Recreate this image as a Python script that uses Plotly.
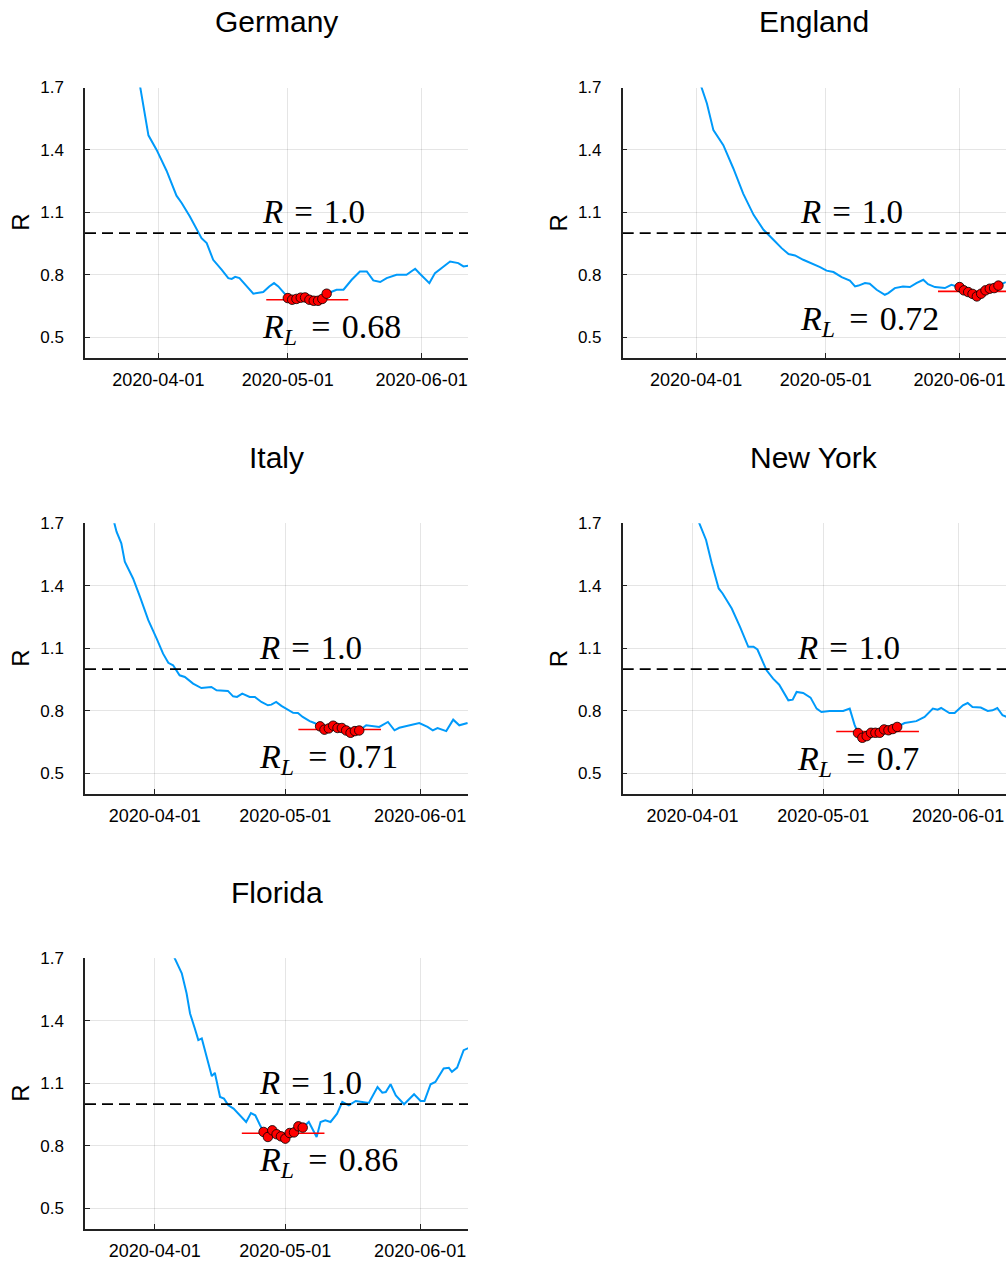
import numpy as np
import pandas as pd
import plotly.graph_objects as go

BASE_DATE = "2020-04-01"   # day 0 of every day-offset list below

# ---------------- data (day offsets from 2020-04-01, R estimates) ----------------
germany_day = [-6.0, -4.2, -2.3, -0.4, 1.9, 4.2, 5.4, 7.3, 9.3, 10.0, 11.2, 12.7, 14.7, 16.2, 17.0,
               17.8, 18.8, 20.5, 22.0, 24.3, 25.7, 26.8, 27.8, 29.5,
               30, 31, 32, 33, 34, 35, 36, 37, 38, 39,
               41.3, 42.9, 44.8, 46.7, 48.3, 49.8, 51.4, 52.9, 55.2, 57.5, 59.5, 60.6, 62.8,
               64.1, 66.0, 67.6, 69.5, 70.7, 71.8]
germany_r = [1.92, 1.70, 1.47, 1.40, 1.30, 1.18, 1.145, 1.08, 1.00, 0.976, 0.952, 0.872, 0.824, 0.784, 0.78,
             0.79, 0.784, 0.744, 0.709, 0.717, 0.744, 0.76, 0.744, 0.704,
             0.688, 0.680, 0.684, 0.690, 0.691, 0.680, 0.675, 0.675, 0.684, 0.709,
             0.728, 0.728, 0.776, 0.816, 0.816, 0.773, 0.765, 0.784, 0.80, 0.80, 0.829, 0.805, 0.76,
             0.808, 0.84, 0.864, 0.856, 0.84, 0.843]
germany_dot_day = [30, 31, 32, 33, 34, 35, 36, 37, 38, 39]
germany_dot_r = [0.688, 0.680, 0.684, 0.690, 0.691, 0.680, 0.675, 0.675, 0.684, 0.709]
germany_rl = 0.68
germany_window = [25, 44]

england_day = [-1.0, 1.2, 2.5, 4.0, 6.3, 8.6, 10.9, 13.3, 15.6, 17.9, 19.8, 21.4, 22.9, 24.8, 26.8,
               28.7, 30.2, 31.8, 33.7, 35.6, 36.8, 37.6, 39.1, 40.2, 41.8, 43.7, 44.5, 46.0, 47.9,
               49.5, 51.0, 52.6, 53.7, 55.3, 57.6, 59.1,
               61, 62, 63, 64, 65, 66, 67, 68, 69, 70, 71.7]
england_r = [1.84, 1.70, 1.623, 1.495, 1.423, 1.312, 1.19, 1.088, 1.016, 0.968, 0.928, 0.90, 0.893, 0.872, 0.856,
             0.837, 0.82, 0.813, 0.789, 0.772, 0.744, 0.748, 0.76, 0.757, 0.728, 0.704, 0.712, 0.736, 0.744,
             0.741, 0.76, 0.776, 0.755, 0.741, 0.736, 0.752,
             0.741, 0.725, 0.717, 0.708, 0.696, 0.709, 0.725, 0.733, 0.736, 0.748, 0.765]
england_dot_day = [61, 62, 63, 64, 65, 66, 67, 68, 69, 70]
england_dot_r = [0.741, 0.725, 0.717, 0.708, 0.696, 0.709, 0.725, 0.733, 0.736, 0.748]
england_rl = 0.72
england_window = [56, 75]

italy_day = [-10.5, -9.3, -8.8, -7.7, -6.9, -5.0, -3.4, -1.5, 0.4, 1.9, 3.1, 4.2, 5.7, 6.9, 8.8, 10.7,
             13.0, 14.2, 16.8, 18.0, 18.9, 20.1, 21.8, 23.0, 24.5, 26.0, 26.8, 27.9, 29.1, 30.2,
             31.8, 32.9, 34.0, 35.6, 36.7,
             38, 39, 40, 41, 42, 43, 44, 45, 46, 47,
             48.6, 51.6, 53.6, 55.1, 56.2, 58.5, 60.8, 62.7, 63.9, 65.0, 67.0, 68.6, 70.0, 71.9]
italy_r = [1.85, 1.70, 1.66, 1.604, 1.516, 1.435, 1.347, 1.235, 1.147, 1.074, 1.03, 1.018, 0.97, 0.962, 0.93, 0.909,
           0.914, 0.898, 0.895, 0.869, 0.866, 0.882, 0.866, 0.866, 0.842, 0.826, 0.829, 0.842, 0.823, 0.81,
           0.79, 0.789, 0.77, 0.75, 0.741,
           0.725, 0.709, 0.715, 0.728, 0.717, 0.717, 0.705, 0.694, 0.702, 0.705,
           0.73, 0.722, 0.746, 0.706, 0.718, 0.73, 0.741, 0.722, 0.706, 0.717, 0.702, 0.757, 0.73, 0.741]
italy_dot_day = [38, 39, 40, 41, 42, 43, 44, 45, 46, 47]
italy_dot_r = [0.725, 0.709, 0.715, 0.728, 0.717, 0.717, 0.705, 0.694, 0.702, 0.705]
italy_rl = 0.71
italy_window = [33, 52]

newyork_day = [0.0, 1.5, 3.1, 4.4, 6.0, 6.9, 9.0, 10.9, 12.8, 14.0, 14.9, 17.0, 18.5, 19.9, 22.0, 23.0,
               23.9, 25.4, 27.1, 28.5, 29.6, 31.5, 33.4, 34.6, 36.1, 37.2,
               38, 39, 40, 41, 42, 43, 44, 45, 46, 47,
               48.7, 51.4, 53.3, 55.2, 56.3, 57.1, 59.0, 60.2, 62.1, 63.2, 64.3, 66.2, 67.8, 68.9,
               70.0, 71.2, 72.2]
newyork_r = [1.78, 1.70, 1.62, 1.508, 1.387, 1.363, 1.291, 1.203, 1.107, 1.107, 1.094, 0.994, 0.954, 0.925, 0.85, 0.853,
             0.89, 0.885, 0.863, 0.81, 0.794, 0.799, 0.799, 0.799, 0.81, 0.733,
             0.693, 0.670, 0.678, 0.694, 0.694, 0.694, 0.710, 0.706, 0.712, 0.722,
             0.741, 0.75, 0.77, 0.81, 0.805, 0.813, 0.789, 0.789, 0.826, 0.837, 0.818, 0.815, 0.799, 0.802,
             0.813, 0.778, 0.77]
newyork_dot_day = [38, 39, 40, 41, 42, 43, 44, 45, 46, 47]
newyork_dot_r = [0.693, 0.670, 0.678, 0.694, 0.694, 0.694, 0.710, 0.706, 0.712, 0.722]
newyork_rl = 0.70
newyork_window = [33, 52]

florida_day = [3.0, 4.6, 6.2, 7.3, 8.1, 9.2, 10.0, 10.8, 11.9, 13.1, 13.8, 15.0, 15.9, 16.9, 18.1, 19.2,
               21.0, 22.1, 23.1, 24.2,
               25, 26, 27, 28, 29, 30, 31, 32, 33, 34,
               35.4, 37.2, 38.1, 39.2, 40.4, 41.9, 43.1, 44.6, 46.2, 47.7, 49.2, 51.2, 52.3, 53.1,
               54.2, 55.4, 57.3, 59.6, 61.1, 62.0, 63.4, 64.5, 66.4, 67.6, 68.3, 69.5, 71.0, 72.2]
florida_r = [1.77, 1.70, 1.628, 1.532, 1.435, 1.363, 1.307, 1.315, 1.227, 1.134, 1.15, 1.034, 1.026, 0.994, 0.978, 0.954,
             0.914, 0.957, 0.946, 0.898,
             0.866, 0.842, 0.874, 0.855, 0.845, 0.834, 0.861, 0.864, 0.893, 0.887,
             0.914, 0.842, 0.914, 0.922, 0.914, 0.954, 1.01, 0.994, 1.015, 1.01, 1.005, 1.082, 1.055, 1.058,
             1.095, 1.042, 0.999, 1.047, 1.015, 1.015, 1.095, 1.106, 1.171, 1.174, 1.155, 1.175, 1.259, 1.27]
florida_dot_day = [25, 26, 27, 28, 29, 30, 31, 32, 33, 34]
florida_dot_r = [0.866, 0.842, 0.874, 0.855, 0.845, 0.834, 0.861, 0.864, 0.893, 0.887]
florida_rl = 0.86
florida_window = [20, 39]

titles = ["Germany", "England", "Italy", "New York", "Florida"]
x_ranges = [[-17, 71.75], [-17, 71.75], [-16.05, 72.0], [-16.05, 72.0], [-16.05, 72.0]]
y_range = [0.4, 1.7]
y_ticks = [0.5, 0.8, 1.1, 1.4, 1.7]
y_ticklabels = ["0.5", "0.8", "1.1", "1.4", "1.7"]
x_ticks = ["2020-04-01", "2020-05-01", "2020-06-01"]
threshold = 1.0
label_day = 23.6          # where the R annotations start
label_r = 1.1

panels = [
    (germany_day, germany_r, germany_dot_day, germany_dot_r, germany_rl, germany_window),
    (england_day, england_r, england_dot_day, england_dot_r, england_rl, england_window),
    (italy_day, italy_r, italy_dot_day, italy_dot_r, italy_rl, italy_window),
    (newyork_day, newyork_r, newyork_dot_day, newyork_dot_r, newyork_rl, newyork_window),
    (florida_day, florida_r, florida_dot_day, florida_dot_r, florida_rl, florida_window),
]


def to_date(days):
    return pd.Timestamp(BASE_DATE) + pd.to_timedelta(np.asarray(days, dtype=float), unit="D")


# ---------------- layout geometry (pixels) ----------------
W, H = 1008, 1262
col_px = [(85, 468), (622.7, 1006)]
row_px = [(87.5, 358), (523.3, 794), (958.3, 1229)]

BLUE = "#009AFA"
SANS = "Liberation Sans, Arial, Helvetica, sans-serif"
SERIF = "Liberation Serif, Times New Roman, serif"
HS = "\u200a"  # hair space to widen the math-style spacing

fig = go.Figure()
layout = {}
annotations = []

for i, (title, (day, r, dday, dr, rl, win)) in enumerate(zip(titles, panels)):
    row, col = divmod(i, 2)
    x0, x1 = col_px[col]
    yt, yb = row_px[row]
    n = "" if i == 0 else str(i + 1)
    xa, ya = "x" + n, "y" + n

    xr = to_date(x_ranges[i])
    fig.add_trace(go.Scatter(x=to_date(day), y=r, mode="lines", line=dict(color=BLUE, width=2),
                             xaxis=xa, yaxis=ya, showlegend=False, hoverinfo="skip"))
    fig.add_trace(go.Scatter(x=xr, y=[threshold, threshold], mode="lines",
                             line=dict(color="black", width=1.7, dash="11px,6px"),
                             xaxis=xa, yaxis=ya, showlegend=False, hoverinfo="skip"))
    fig.add_trace(go.Scatter(x=to_date(win), y=[rl, rl], mode="lines",
                             line=dict(color="red", width=1.6),
                             xaxis=xa, yaxis=ya, showlegend=False, hoverinfo="skip"))
    fig.add_trace(go.Scatter(x=to_date(dday), y=dr, mode="markers",
                             marker=dict(color="red", size=9.5, line=dict(color="black", width=0.8)),
                             xaxis=xa, yaxis=ya, showlegend=False, hoverinfo="skip", cliponaxis=True))

    layout["xaxis" + n] = dict(
        domain=[x0 / W, x1 / W], anchor=ya, type="date", automargin=False,
        range=[str(xr[0]), str(xr[1])],
        tickvals=x_ticks, ticktext=x_ticks,
        showgrid=True, gridcolor="rgba(0,0,0,0.1)", gridwidth=1,
        showline=True, linecolor="#222", linewidth=1.5, mirror=False,
        ticks="inside", ticklen=5, tickcolor="#222", tickwidth=1,
        tickfont=dict(family=SANS, size=18, color="black"),
        ticklabelstandoff=5, zeroline=False,
    )
    layout["yaxis" + n] = dict(
        domain=[1 - yb / H, 1 - yt / H], anchor=xa, automargin=False,
        range=y_range, tickvals=y_ticks, ticktext=y_ticklabels,
        showgrid=True, gridcolor="rgba(0,0,0,0.1)", gridwidth=1,
        showline=True, linecolor="#222", linewidth=1.5, mirror=False,
        ticks="inside", ticklen=5, tickcolor="#222", tickwidth=1,
        tickfont=dict(family=SANS, size=17, color="black"),
        ticklabelstandoff=16, zeroline=False,
    )

    # panel title
    annotations.append(dict(text=title, xref="paper", yref="paper",
                            x=(x0 + x1) / 2 / W, y=1 - (yt - 65.5) / H,
                            xanchor="center", yanchor="middle", showarrow=False,
                            font=dict(family=SANS, size=30, color="black")))
    # y axis label
    annotations.append(dict(text="R", xref="paper", yref="paper",
                            x=(x0 - 64) / W, y=1 - (yt + yb) / 2 / H, textangle=-90,
                            xanchor="center", yanchor="middle", showarrow=False,
                            font=dict(family=SANS, size=24, color="black")))
    # R = 1.0 and R_L labels
    annotations.append(dict(text=f"<i>R</i>{HS} = {HS}1.0", xref=xa, yref=ya,
                            x=to_date([label_day])[0], y=label_r,
                            xanchor="left", yanchor="middle", showarrow=False,
                            font=dict(family=SERIF, size=33, color="black")))
    annotations.append(dict(text=f"<i>R</i><sub><i>L</i></sub>{HS}{HS} = {HS}{rl:g}", xref=xa, yref=ya,
                            x=to_date([label_day])[0], y=rl - 0.14,
                            xanchor="left", yanchor="middle", showarrow=False,
                            font=dict(family=SERIF, size=34, color="black")))

fig.update_layout(width=W, height=H, margin=dict(l=0, r=0, t=0, b=0, autoexpand=False),
                  paper_bgcolor="white", plot_bgcolor="white",
                  annotations=annotations, showlegend=False, **layout)

fig.write_html("out.html")
